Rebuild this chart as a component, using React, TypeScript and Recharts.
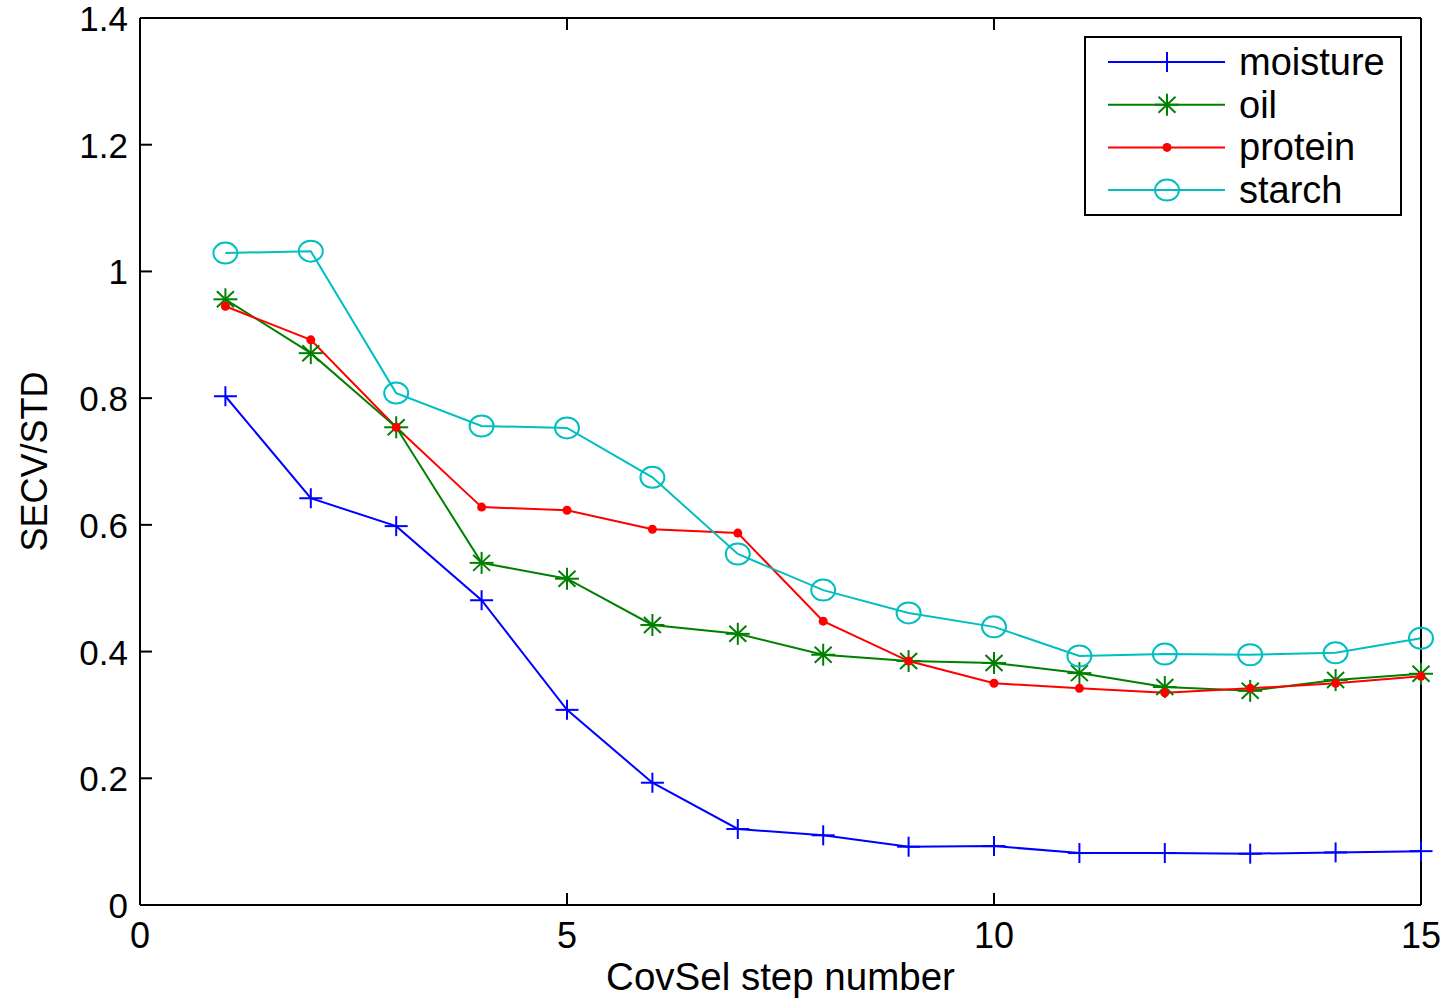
import React from "react";
import { LineChart, Line, XAxis, YAxis, Legend } from "recharts";

const steps = [1, 2, 3, 4, 5, 6, 7, 8, 9, 10, 11, 12, 13, 14, 15];
const moisture = [0.803, 0.642, 0.598, 0.481, 0.308, 0.193, 0.12, 0.11, 0.092, 0.093, 0.082, 0.082, 0.081, 0.083, 0.085];
const oil = [0.956, 0.871, 0.754, 0.54, 0.515, 0.442, 0.428, 0.395, 0.385, 0.382, 0.366, 0.344, 0.338, 0.355, 0.365];
const protein = [0.945, 0.892, 0.754, 0.628, 0.623, 0.593, 0.587, 0.448, 0.385, 0.35, 0.342, 0.335, 0.342, 0.35, 0.361];
const starch = [1.029, 1.032, 0.808, 0.756, 0.753, 0.675, 0.554, 0.497, 0.461, 0.439, 0.393, 0.396, 0.395, 0.398, 0.421];

const xTicks = [0, 5, 10, 15];
const yTicks = [0, 0.2, 0.4, 0.6, 0.8, 1, 1.2, 1.4];

const FONT = "'Liberation Sans', Arial, Helvetica, sans-serif";
const TICK = 12;

const data = steps.map((s, i) => ({
  step: s,
  moisture: moisture[i],
  oil: oil[i],
  protein: protein[i],
  starch: starch[i],
}));

const colors = {
  moisture: "#0000ff",
  oil: "#008000",
  protein: "#ff0000",
  starch: "#00bfbf",
};

// marker shapes, MATLAB-ish
function marker(kind: string, cx: number, cy: number, key?: any) {
  const c = (colors as any)[kind];
  if (kind === "moisture") {
    return (
      <g key={key}>
        <line x1={cx - 11.5} y1={cy} x2={cx + 11.5} y2={cy} stroke={c} strokeWidth={2} />
        <line x1={cx} y1={cy - 10} x2={cx} y2={cy + 10} stroke={c} strokeWidth={2} />
      </g>
    );
  }
  if (kind === "oil") {
    return (
      <g key={key}>
        <line x1={cx - 12} y1={cy} x2={cx + 12} y2={cy} stroke={c} strokeWidth={2} />
        <line x1={cx} y1={cy - 11} x2={cx} y2={cy + 11} stroke={c} strokeWidth={2} />
        <line x1={cx - 8.5} y1={cy - 8} x2={cx + 8.5} y2={cy + 8} stroke={c} strokeWidth={2} />
        <line x1={cx - 8.5} y1={cy + 8} x2={cx + 8.5} y2={cy - 8} stroke={c} strokeWidth={2} />
      </g>
    );
  }
  if (kind === "protein") {
    return <circle key={key} cx={cx} cy={cy} r={4.5} fill={c} stroke="none" />;
  }
  return <ellipse key={key} cx={cx} cy={cy} rx={12} ry={10.5} fill="none" stroke={c} strokeWidth={2} />;
}

const dotFor = (kind: string) => (p: any) => marker(kind, p.cx, p.cy, `${kind}-${p.index}`);

const LeftTick = (p: any) => (
  <g>
    <line x1={p.x} y1={p.y} x2={p.x + TICK} y2={p.y} stroke="#000" strokeWidth={2} />
    <text x={p.x - 12} y={p.y + 13} textAnchor="end" fontFamily={FONT} fontSize={35} fill="#000">
      {p.payload.value}
    </text>
  </g>
);

const RightTick = (p: any) => (
  <line x1={p.x - TICK} y1={p.y} x2={p.x} y2={p.y} stroke="#000" strokeWidth={2} />
);

const BottomTick = (p: any) => (
  <g>
    <line x1={p.x} y1={p.y} x2={p.x} y2={p.y - TICK} stroke="#000" strokeWidth={2} />
    <text x={p.x} y={p.y + 43} textAnchor="middle" fontFamily={FONT} fontSize={36} fill="#000">
      {p.payload.value}
    </text>
  </g>
);

const TopTick = (p: any) => (
  <line x1={p.x} y1={p.y} x2={p.x} y2={p.y + TICK} stroke="#000" strokeWidth={2} />
);

const series = ["moisture", "oil", "protein", "starch"];

const renderLegend = () => (
  <svg width={318} height={180} style={{ display: "block" }}>
    <rect x={1} y={1} width={316} height={178} fill="#fff" stroke="#000" strokeWidth={2} />
    {series.map((s, i) => {
      const y = 26 + i * 42.7;
      return (
        <g key={s}>
          <line x1={24} y1={y} x2={141} y2={y} stroke={(colors as any)[s]} strokeWidth={2} />
          {marker(s, 83, y)}
          <text x={155} y={y + 13} fontFamily={FONT} fontSize={38} fill="#000">
            {s}
          </text>
        </g>
      );
    })}
  </svg>
);

export default function App() {
  return (
    <div style={{ position: "absolute", left: 0, top: 0, background: "#fff" }}>
      <LineChart width={1449} height={998} data={data} margin={{ top: 0, right: 0, bottom: 0, left: 0 }}>
        <XAxis
          xAxisId="b"
          dataKey="step"
          type="number"
          domain={[0, 15]}
          ticks={xTicks}
          height={93}
          tickSize={0}
          tickMargin={0}
          tickLine={false}
          axisLine={{ stroke: "#000", strokeWidth: 2 }}
          tick={<BottomTick />}
          label={{
            value: "CovSel step number",
            position: "insideBottom",
            offset: 8,
            style: { fontFamily: FONT, fontSize: 38.5, fill: "#000" },
          }}
        />
        <XAxis
          xAxisId="t"
          orientation="top"
          dataKey="step"
          type="number"
          domain={[0, 15]}
          ticks={xTicks}
          height={18}
          tickSize={0}
          tickMargin={0}
          tickLine={false}
          axisLine={{ stroke: "#000", strokeWidth: 2 }}
          tick={<TopTick />}
        />
        <YAxis
          yAxisId="l"
          type="number"
          domain={[0, 1.4]}
          ticks={yTicks}
          width={140}
          tickSize={0}
          tickMargin={0}
          tickLine={false}
          axisLine={{ stroke: "#000", strokeWidth: 2 }}
          tick={<LeftTick />}
          label={{
            value: "SECV/STD",
            angle: -90,
            position: "insideLeft",
            offset: 34,
            style: { fontFamily: FONT, fontSize: 36, fill: "#000", textAnchor: "middle" },
          }}
        />
        <YAxis
          yAxisId="r"
          orientation="right"
          type="number"
          domain={[0, 1.4]}
          ticks={yTicks}
          width={28}
          tickSize={0}
          tickMargin={0}
          tickLine={false}
          axisLine={{ stroke: "#000", strokeWidth: 2 }}
          tick={<RightTick />}
        />
        {series.map((s) => (
          <Line
            key={s}
            xAxisId="b"
            yAxisId="l"
            dataKey={s}
            type="linear"
            stroke={(colors as any)[s]}
            strokeWidth={2}
            dot={dotFor(s)}
            activeDot={false}
            isAnimationActive={false}
          />
        ))}
        <Legend
          layout="vertical"
          align="center"
          verticalAlign="middle"
          content={renderLegend}
          wrapperStyle={{ position: "absolute", left: 1084, top: 36, width: 318, height: 180 }}
        />
      </LineChart>
    </div>
  );
}
